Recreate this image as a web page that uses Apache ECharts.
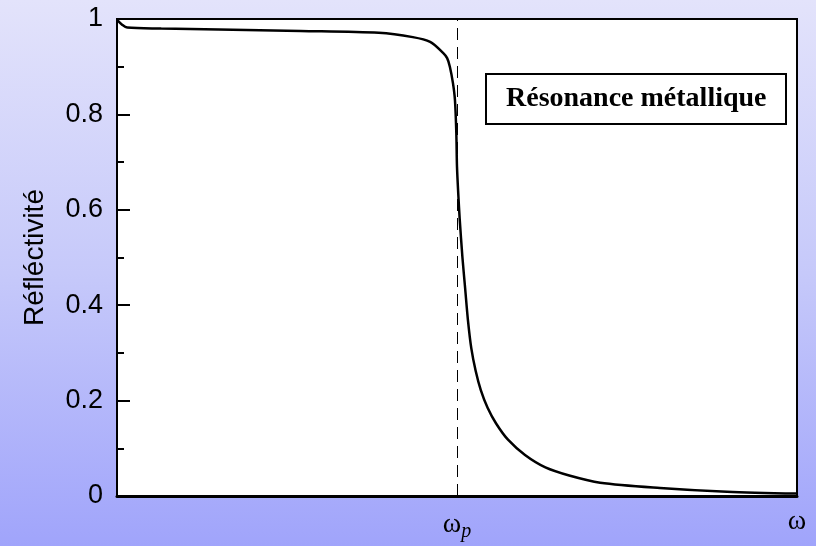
<!DOCTYPE html>
<html>
<head>
<meta charset="utf-8">
<script src="https://cdn.jsdelivr.net/npm/echarts@6/dist/echarts.min.js"></script>
<style>
  html, body { margin: 0; padding: 0; }
  body { background: linear-gradient(to bottom, #e3e3fb 0%, #c6c9fa 50%, #a0a4fb 100%); }
  #chart { width: 816px; height: 546px; }
</style>
</head>
<body>
<div id="chart"></div>
<script>
// frequency in units of omega_p (0 .. 2)
const omega = [0, 0.015, 0.03, 0.13, 0.3, 0.54, 0.77, 0.87, 0.921, 0.959, 0.971, 0.979, 0.988, 0.994, 0.998, 1.0, 1.004, 1.008, 1.016, 1.024, 1.032, 1.042, 1.055, 1.07, 1.09, 1.115, 1.15, 1.2, 1.26, 1.33, 1.421, 1.597, 1.794, 2.0];
const reflectivity = [0.998, 0.988, 0.982, 0.98, 0.978, 0.975, 0.971, 0.962, 0.952, 0.929, 0.918, 0.9, 0.866, 0.83, 0.761, 0.69, 0.63, 0.58, 0.5, 0.435, 0.37, 0.31, 0.262, 0.222, 0.185, 0.152, 0.118, 0.086, 0.06, 0.043, 0.028, 0.017, 0.009, 0.005];
const yTicks = [0, 0.2, 0.4, 0.6, 0.8, 1];
const plasmaFreq = 1;

const chart = echarts.init(document.getElementById("chart"));

const option = {
  backgroundColor: "transparent",
  animation: false,
  title: {
    text: "Résonance métallique",
    left: 486,
    top: 74,
    padding: [11, 20, 11, 20],
    backgroundColor: "#fff",
    borderColor: "#000",
    borderWidth: 2,
    textStyle: {
      fontFamily: "Liberation Serif",
      fontWeight: "bold",
      fontSize: 28,
      color: "#000",
    },
  },
  grid: {
    left: 117,
    right: 19,
    top: 19,
    bottom: 50,
    show: true,
    backgroundColor: "#fff",
    borderColor: "#000",
    borderWidth: 2,
  },
  xAxis: {
    type: "value",
    min: 0,
    max: 2,
    interval: 1,
    axisLine: { lineStyle: { color: "#000", width: 3 } },
    axisTick: { show: false },
    splitLine: { show: false },
    axisLabel: {
      margin: 12,
      color: "#000",
      fontFamily: "Liberation Serif",
      fontSize: 28,
      formatter: (v) => (v === 1 ? "ω{sub|p}" : v === 2 ? "ω" : ""),
      rich: {
        sub: {
          fontFamily: "Liberation Serif",
          fontStyle: "italic",
          fontSize: 20,
          verticalAlign: "bottom",
          padding: [14, 0, 0, 0],
          color: "#000",
        },
      },
    },
  },
  yAxis: {
    type: "value",
    min: 0,
    max: 1,
    interval: 0.2,
    name: "Réfléctivité",
    nameLocation: "middle",
    nameGap: 68,
    nameTextStyle: {
      fontFamily: "Liberation Sans",
      fontSize: 28,
      color: "#000",
    },
    axisLine: { lineStyle: { color: "#000", width: 2 } },
    axisTick: { inside: true, length: 13, lineStyle: { color: "#000", width: 2 } },
    minorTick: { show: true, splitNumber: 2, length: 7, lineStyle: { color: "#000", width: 2 } },
    splitLine: { show: false },
    axisLabel: {
      margin: 14,
      color: "#000",
      fontFamily: "Liberation Sans",
      fontSize: 27,
      formatter: (v) => (yTicks.includes(Math.round(v * 10) / 10) ? String(Math.round(v * 10) / 10) : ""),
    },
  },
  series: [
    {
      type: "line",
      data: omega.map((w, i) => [w, reflectivity[i]]),
      showSymbol: false,
      smooth: 0.3,
      lineStyle: { color: "#000", width: 2.5 },
      markLine: {
        silent: true,
        symbol: "none",
        label: { show: false },
        lineStyle: { color: "#000", width: 1, type: [12, 7] },
        data: [{ xAxis: plasmaFreq }],
      },
    },
  ],
};

chart.setOption(option);
</script>
</body>
</html>
